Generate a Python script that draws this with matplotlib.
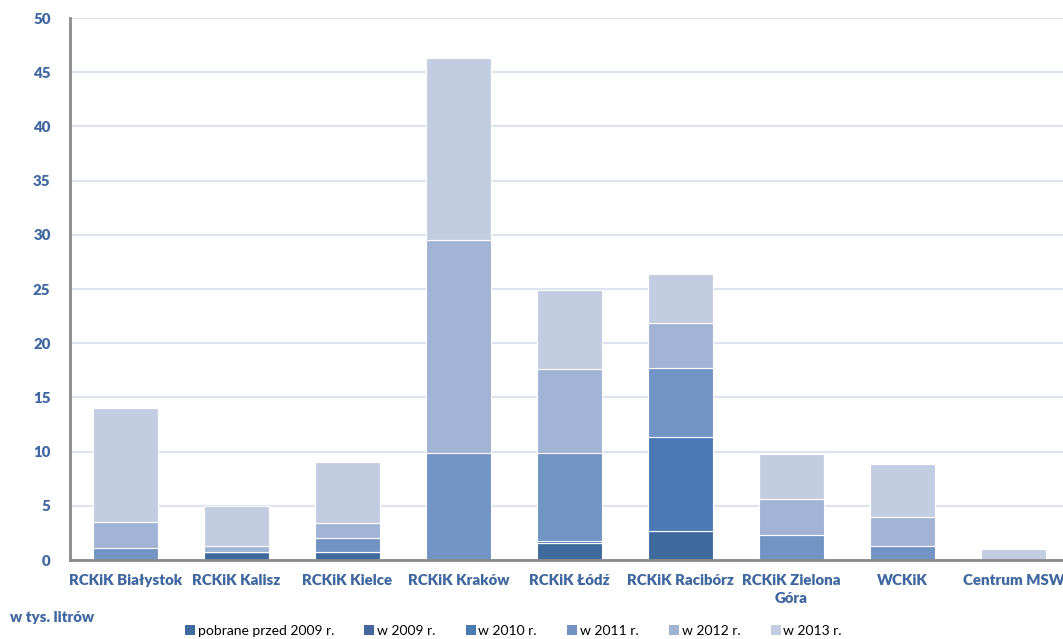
import matplotlib
matplotlib.use("Agg")
import matplotlib.pyplot as plt
from matplotlib.patches import Patch
import numpy as np

plt.rcParams['font.family'] = ['Lato', 'DejaVu Sans']

categories = ["RCKiK Białystok", "RCKiK Kalisz", "RCKiK Kielce", "RCKiK Kraków",
              "RCKiK Łódź", "RCKiK Racibórz", "RCKiK Zielona\nGóra", "WCKiK",
              "Centrum MSW"]
series_names = ["pobrane przed 2009 r.", "w 2009 r.", "w 2010 r.", "w 2011 r.",
                "w 2012 r.", "w 2013 r."]
pre_2009 = [0.0, 0.7, 0.77, 0.0, 1.55, 2.65, 0.0, 0.0, 0.0]
y_2009 = [0.0, 0.0, 0.0, 0.0, 0.0, 0.0, 0.0, 0.0, 0.0]
y_2010 = [0.0, 0.0, 0.0, 0.0, 0.25, 8.7, 0.0, 0.0, 0.0]
y_2011 = [1.1, 0.0, 1.23, 9.9, 8.05, 6.35, 2.35, 1.3, 0.0]
y_2012 = [2.4, 0.55, 1.4, 19.6, 7.8, 4.2, 3.3, 2.65, 0.0]
y_2013 = [10.5, 3.75, 5.64, 16.8, 7.3, 4.5, 4.1, 4.9, 1.0]
yticks = [0, 5, 10, 15, 20, 25, 30, 35, 40, 45, 50]

series = [pre_2009, y_2009, y_2010, y_2011, y_2012, y_2013]
colors = ["#3f6a9e", "#44679c", "#4a7ab4", "#7294c4", "#a2b4d5", "#c3cde2"]
label_color = "#3f67a0"

fig = plt.figure(figsize=(10.63, 6.39), dpi=100)
ax = fig.add_axes([0.0659, 0.1236, 0.9398, 0.8482])

x = np.arange(len(categories))
bottom = np.zeros(len(categories))
for vals, col, name in zip(series, colors, series_names):
    vals = np.array(vals)
    ax.bar(x, vals, width=0.58, bottom=bottom, color=col, edgecolor="white",
           linewidth=0.8, label=name, zorder=3)
    bottom += vals

ax.set_xlim(-0.5, len(categories) - 0.5)
ax.set_ylim(0, 50)
ax.set_yticks(yticks)
ax.set_yticklabels([str(t) for t in yticks], fontsize=10.8, fontweight="heavy",
                   color=label_color)
ax.set_xticks(x)
ax.set_xticklabels(categories, fontsize=10.8, fontweight="heavy", color=label_color,
                   linespacing=1.5)
ax.tick_params(axis="both", length=0)
ax.tick_params(axis="y", pad=14)
ax.tick_params(axis="x", pad=10)

ax.grid(axis="y", color="#dce4f1", linewidth=1.5, zorder=0)
for side in ["top", "right"]:
    ax.spines[side].set_visible(False)
for side in ["left", "bottom"]:
    ax.spines[side].set_color("#8a8a8a")
    ax.spines[side].set_linewidth(2)
    ax.spines[side].set_zorder(4)

fig.text(0.0094, 0.033, "w tys. litrów", fontsize=10.8, fontweight="heavy",
         color=label_color, va="center", ha="left")

handles = [Patch(facecolor=c, edgecolor="none") for c in colors]
fig.legend(handles, series_names, loc="center", bbox_to_anchor=(0.483, 0.0125),
           ncol=6, frameon=False, fontsize=10, handlelength=0.7, handleheight=0.7,
           handletextpad=0.2, columnspacing=2.2, borderpad=0)

fig.savefig("out.png", dpi=100)
